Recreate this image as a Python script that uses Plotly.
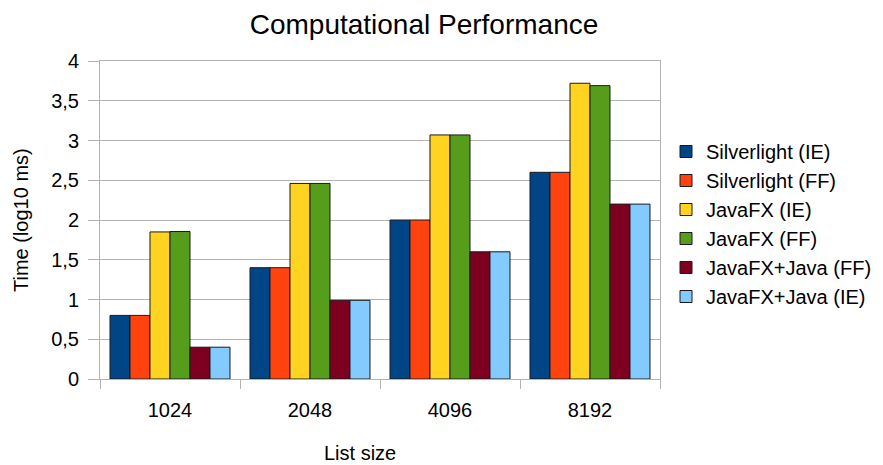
import plotly.graph_objects as go

categories = ["1024", "2048", "4096", "8192"]
series_names = ["Silverlight (IE)", "Silverlight (FF)", "JavaFX (IE)", "JavaFX (FF)",
                "JavaFX+Java (FF)", "JavaFX+Java (IE)"]
silverlight_ie = [0.80, 1.40, 2.00, 2.60]
silverlight_ff = [0.80, 1.40, 2.00, 2.60]
javafx_ie = [1.85, 2.46, 3.07, 3.72]
javafx_ff = [1.855, 2.46, 3.07, 3.69]
javafx_java_ff = [0.40, 0.99, 1.60, 2.20]
javafx_java_ie = [0.40, 0.99, 1.60, 2.20]
colors = ["#004586", "#ff420e", "#ffd320", "#579d1c", "#7e0021", "#83caff"]
y_ticks = [0, 0.5, 1, 1.5, 2, 2.5, 3, 3.5, 4]

values = [silverlight_ie, silverlight_ff, javafx_ie, javafx_ff, javafx_java_ff, javafx_java_ie]

W, H = 883, 465
L, R, T, B = 100, 223, 61, 86

fig = go.Figure()
for name, vals, col in zip(series_names, values, colors):
    fig.add_trace(go.Bar(x=categories, y=vals, name=name,
                         marker=dict(color=col, line=dict(color="#1a1a1a", width=1))))

font = "Liberation Sans, Arial, sans-serif"
fig.update_layout(
    width=W, height=H,
    paper_bgcolor="white", plot_bgcolor="white",
    separators=", ",
    barmode="group", bargap=0.143, bargroupgap=0,
    margin=dict(l=L, r=R, t=T, b=B, autoexpand=False),
    font=dict(family=font, size=20, color="black"),
    title=dict(text="Computational Performance", x=424 / W, xref="container", xanchor="center",
               y=1 - 24 / H, yref="container", yanchor="middle", font=dict(size=28, family=font)),
    legend=dict(x=(666 - L) / (W - L - R), xanchor="left",
                y=(H - B - 224) / (H - T - B), yanchor="middle",
                font=dict(size=20, family=font), tracegroupgap=0, itemwidth=30),
    xaxis=dict(type="category", showline=True, linecolor="#b3b3b3", mirror=True,
               ticks="outside", tickson="boundaries", ticklen=9, tickcolor="#b3b3b3",
               showgrid=False, tickfont=dict(size=20), ticklabelstandoff=13),
    yaxis=dict(range=[0, 4], tickvals=y_ticks, showline=True, linecolor="#b3b3b3", mirror=True,
               ticks="outside", ticklen=11, tickcolor="#b3b3b3",
               showgrid=True, gridcolor="#b3b3b3", gridwidth=1, zeroline=False,
               tickfont=dict(size=20), ticklabelstandoff=5),
    annotations=[
        dict(text="List size", xref="paper", yref="paper",
             x=(360 - L) / (W - L - R), y=-(453 - (H - B)) / (H - T - B),
             xanchor="center", yanchor="middle", showarrow=False, font=dict(size=20)),
        dict(text="Time (log10 ms)", xref="paper", yref="paper",
             x=-(L - 21) / (W - L - R), y=(H - B - 220) / (H - T - B),
             xanchor="center", yanchor="middle", textangle=-90, showarrow=False,
             font=dict(size=20)),
    ],
)

fig.write_html("out.html", config={"displayModeBar": False},
               post_script="document.body.style.margin='0';")
